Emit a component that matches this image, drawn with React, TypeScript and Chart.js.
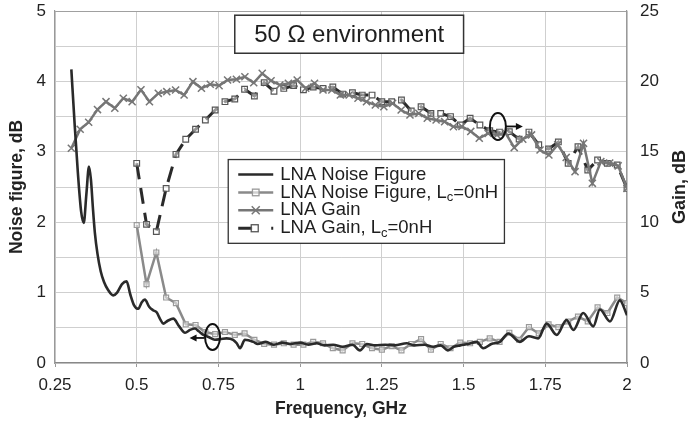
import React, { useEffect, useRef } from 'react';
import { Chart, registerables } from 'chart.js';
Chart.register(...registerables);

// ---------- data ----------
const xTickStep = 0.25;

// LNA Noise Figure (smooth trace), left axis, dB
const nfFreq = [0.300, 0.310, 0.320, 0.330, 0.338, 0.346, 0.354, 0.360, 0.366, 0.372, 0.380, 0.390, 0.400, 0.412, 0.428, 0.440, 0.455, 0.469, 0.480, 0.492, 0.505, 0.515, 0.525, 0.538, 0.550, 0.561, 0.572, 0.581, 0.595, 0.612, 0.630, 0.648, 0.663, 0.678, 0.690, 0.704, 0.720, 0.739, 0.757, 0.775, 0.795, 0.806, 0.816, 0.831, 0.857, 0.870, 0.895, 0.920, 0.945, 0.970, 1.000, 1.025, 1.050, 1.075, 1.101, 1.130, 1.160, 1.183, 1.204, 1.230, 1.260, 1.290, 1.326, 1.350, 1.380, 1.407, 1.430, 1.452, 1.470, 1.490, 1.515, 1.540, 1.560, 1.585, 1.611, 1.637, 1.672, 1.700, 1.728, 1.754, 1.785, 1.815, 1.836, 1.866, 1.897, 1.917, 1.948, 1.978, 2.000];
const nfValues = [4.17, 3.40, 2.70, 2.15, 1.99, 2.40, 2.79, 2.60, 2.20, 1.85, 1.55, 1.30, 1.15, 1.04, 0.96, 1.00, 1.12, 1.16, 0.98, 0.82, 0.77, 0.86, 0.90, 0.80, 0.75, 0.72, 0.62, 0.56, 0.60, 0.63, 0.52, 0.43, 0.47, 0.49, 0.45, 0.40, 0.37, 0.33, 0.34, 0.35, 0.33, 0.28, 0.21, 0.33, 0.30, 0.27, 0.30, 0.26, 0.29, 0.27, 0.29, 0.26, 0.28, 0.25, 0.26, 0.23, 0.26, 0.18, 0.27, 0.25, 0.26, 0.25, 0.28, 0.25, 0.26, 0.23, 0.25, 0.18, 0.23, 0.25, 0.27, 0.30, 0.21, 0.27, 0.30, 0.42, 0.30, 0.38, 0.35, 0.56, 0.40, 0.61, 0.47, 0.71, 0.52, 0.76, 0.59, 0.89, 0.68];

// LNA Gain, right axis, dB
const gainFreq = [0.300, 0.327, 0.353, 0.380, 0.406, 0.433, 0.459, 0.486, 0.513, 0.539, 0.566, 0.592, 0.619, 0.645, 0.672, 0.698, 0.725, 0.752, 0.778, 0.805, 0.831, 0.858, 0.884, 0.911, 0.938, 0.964, 0.991, 1.017, 1.044, 1.070, 1.097, 1.123, 1.150, 1.177, 1.203, 1.230, 1.256, 1.283, 1.309, 1.336, 1.363, 1.389, 1.416, 1.442, 1.469, 1.495, 1.522, 1.548, 1.575, 1.602, 1.628, 1.655, 1.681, 1.708, 1.734, 1.761, 1.788, 1.814, 1.841, 1.867, 1.894, 1.920, 1.947, 1.973, 2.000];
const gainValues = [15.25, 16.6, 17.1, 18.0, 18.56, 18.1, 18.8, 18.56, 19.4, 18.56, 19.15, 19.27, 19.39, 19.03, 19.98, 19.51, 19.8, 19.7, 20.1, 20.15, 20.33, 19.9, 20.57, 20.05, 19.74, 19.86, 20.1, 19.51, 19.86, 19.39, 19.39, 19.03, 19.03, 18.8, 18.56, 18.32, 18.2, 18.44, 17.97, 17.61, 17.73, 17.38, 17.26, 17.14, 16.78, 16.8, 16.45, 15.96, 16.3, 16.2, 16.35, 15.3, 15.9, 16.2, 15.13, 14.77, 15.5, 14.6, 13.59, 15.6, 12.76, 14.3, 14.2, 14.0, 12.4];

// Lc = 0 nH measurements
const lcFreq = [0.50, 0.53, 0.56, 0.59, 0.62, 0.65, 0.68, 0.71, 0.74, 0.77, 0.80, 0.83, 0.86, 0.89, 0.92, 0.95, 0.98, 1.01, 1.04, 1.07, 1.10, 1.13, 1.16, 1.19, 1.22, 1.25, 1.28, 1.31, 1.34, 1.37, 1.40, 1.43, 1.46, 1.49, 1.52, 1.55, 1.58, 1.61, 1.64, 1.67, 1.70, 1.73, 1.76, 1.79, 1.82, 1.85, 1.88, 1.91, 1.94, 1.97, 2.00];
const nfLcValues = [1.96, 1.12, 1.57, 0.93, 0.85, 0.55, 0.54, 0.44, 0.41, 0.44, 0.40, 0.42, 0.33, 0.27, 0.26, 0.28, 0.26, 0.26, 0.30, 0.28, 0.21, 0.18, 0.28, 0.27, 0.21, 0.19, 0.24, 0.18, 0.27, 0.34, 0.19, 0.27, 0.21, 0.29, 0.28, 0.30, 0.35, 0.30, 0.43, 0.33, 0.51, 0.42, 0.55, 0.51, 0.59, 0.66, 0.59, 0.79, 0.71, 0.93, 0.85];
const gainLcValues = [14.18, 9.85, 9.33, 12.4, 14.82, 15.89, 16.6, 17.26, 17.97, 18.56, 18.75, 19.44, 18.96, 19.91, 19.3, 19.5, 19.7, 19.4, 19.6, 19.5, 19.6, 19.1, 19.2, 19.03, 19.03, 18.56, 18.56, 18.68, 17.9, 18.2, 17.73, 17.73, 17.5, 16.9, 17.38, 16.9, 16.5, 16.4, 16.43, 15.9, 16.4, 15.5, 15.2, 15.7, 14.18, 15.36, 13.7, 14.42, 14.18, 14.06, 12.4];

const seriesLabels = ['LNA Noise Figure', 'LNA Noise Figure, L', 'LNA Gain', 'LNA Gain, L'];
const titleText = '50 Ω environment';
const rightTitle = 'Gain, dB';

// ---------- styling ----------
const FONT = '"Liberation Sans", Arial, sans-serif';
const C_DARK = '#2a2a2a';
const C_GRAY = '#8a8a8a';
const C_GAIN = '#767676';
const GAIN_DASH = [16, 9];

const pts = (xs: number[], ys: number[]) => xs.map((x, i) => ({ x, y: ys[i] }));

function drawSquare(ctx: CanvasRenderingContext2D, x: number, y: number, r: number, stroke: string) {
  ctx.save();
  ctx.setLineDash([]);
  ctx.fillStyle = 'rgba(255,255,255,0.6)';
  ctx.strokeStyle = stroke;
  ctx.lineWidth = 1.3;
  ctx.fillRect(x - r, y - r, 2 * r, 2 * r);
  ctx.strokeRect(x - r, y - r, 2 * r, 2 * r);
  ctx.restore();
}

function drawCross(ctx: CanvasRenderingContext2D, x: number, y: number, r: number, stroke: string) {
  ctx.save();
  ctx.strokeStyle = stroke;
  ctx.lineWidth = 1.5;
  ctx.beginPath();
  ctx.moveTo(x - r, y - r); ctx.lineTo(x + r, y + r);
  ctx.moveTo(x - r, y + r); ctx.lineTo(x + r, y - r);
  ctx.stroke();
  ctx.restore();
}

function arrow(ctx: CanvasRenderingContext2D, x0: number, y: number, x1: number) {
  const dir = Math.sign(x1 - x0);
  ctx.beginPath();
  ctx.moveTo(x0, y);
  ctx.lineTo(x1 - dir * 5, y);
  ctx.stroke();
  ctx.beginPath();
  ctx.moveTo(x1, y);
  ctx.lineTo(x1 - dir * 7, y - 3.5);
  ctx.lineTo(x1 - dir * 7, y + 3.5);
  ctx.closePath();
  ctx.fill();
}

const overlayPlugin = {
  id: 'overlay',
  afterDraw(chart: any) {
    const { ctx, chartArea } = chart;
    const x = chart.scales.x;
    const y = chart.scales.y;
    const y2 = chart.scales.y2;
    ctx.save();

    // title box
    const tx0 = x.getPixelForValue(0.8), tx1 = x.getPixelForValue(1.5);
    const ty0 = y.getPixelForValue(4.94), ty1 = y.getPixelForValue(4.4);
    ctx.fillStyle = '#fff';
    ctx.fillRect(tx0, ty0, tx1 - tx0, ty1 - ty0);
    ctx.strokeStyle = '#333';
    ctx.lineWidth = 1.5;
    ctx.strokeRect(tx0, ty0, tx1 - tx0, ty1 - ty0);
    ctx.fillStyle = '#1e1e1e';
    ctx.font = `24px ${FONT}`;
    ctx.textAlign = 'center';
    ctx.textBaseline = 'middle';
    ctx.fillText(titleText, (tx0 + tx1) / 2, (ty0 + ty1) / 2 + 1);

    // legend box
    const lx0 = x.getPixelForValue(0.78), lx1 = x.getPixelForValue(1.625);
    const ly0 = y.getPixelForValue(2.89), ly1 = y.getPixelForValue(1.7);
    ctx.fillStyle = '#fff';
    ctx.fillRect(lx0, ly0, lx1 - lx0, ly1 - ly0);
    ctx.strokeStyle = '#333';
    ctx.lineWidth = 1.3;
    ctx.strokeRect(lx0, ly0, lx1 - lx0, ly1 - ly0);
    const sx0 = lx0 + 10, sx1 = lx0 + 45, tX = lx0 + 52;
    ctx.textAlign = 'left';
    ctx.textBaseline = 'middle';
    for (let i = 0; i < 4; i++) {
      const ry = ly0 + 15 + i * 17.9;
      ctx.save();
      ctx.lineCap = 'butt';
      if (i === 0) { ctx.strokeStyle = C_DARK; ctx.lineWidth = 2.5; }
      if (i === 1) { ctx.strokeStyle = C_GRAY; ctx.lineWidth = 2.5; }
      if (i === 2) { ctx.strokeStyle = C_GAIN; ctx.lineWidth = 2.5; }
      if (i === 3) { ctx.strokeStyle = C_DARK; ctx.lineWidth = 3; ctx.setLineDash([14, 19]); }
      ctx.beginPath();
      ctx.moveTo(sx0, ry);
      ctx.lineTo(sx1, ry);
      ctx.stroke();
      ctx.restore();
      const mx = (sx0 + sx1) / 2;
      if (i === 1) drawSquare(ctx, mx, ry, 3.3, '#999');
      if (i === 2) drawCross(ctx, mx, ry, 4, C_GAIN);
      if (i === 3) drawSquare(ctx, mx - 1, ry, 3.5, '#555');
      ctx.fillStyle = '#1e1e1e';
      ctx.font = `18.5px ${FONT}`;
      const label = seriesLabels[i];
      ctx.fillText(label, tX, ry);
      if (i === 1 || i === 3) {
        let cx = tX + ctx.measureText(label).width;
        ctx.font = `13px ${FONT}`;
        ctx.fillText('c', cx, ry + 5);
        cx += ctx.measureText('c').width;
        ctx.font = `18.5px ${FONT}`;
        ctx.fillText('=0nH', cx, ry);
      }
    }

    // ellipse + arrow markers
    ctx.strokeStyle = '#111';
    ctx.fillStyle = '#111';
    ctx.lineWidth = 2;
    const e1x = x.getPixelForValue(0.732), e1y = y.getPixelForValue(0.37);
    ctx.beginPath();
    ctx.ellipse(e1x, e1y, 7.5, 13, 0, 0, Math.PI * 2);
    ctx.stroke();
    ctx.lineWidth = 1.8;
    arrow(ctx, e1x - 8, e1y + 1, e1x - 23);
    ctx.lineWidth = 2;
    const e2x = x.getPixelForValue(1.605), e2y = y2.getPixelForValue(16.8);
    ctx.beginPath();
    ctx.ellipse(e2x, e2y, 8, 13.5, 0, 0, Math.PI * 2);
    ctx.stroke();
    ctx.lineWidth = 1.8;
    arrow(ctx, e2x + 8, e2y, e2x + 25);

    // right axis title (reads bottom-to-top)
    ctx.save();
    ctx.translate(y2.right - 17, (chartArea.top + chartArea.bottom) / 2);
    ctx.rotate(-Math.PI / 2);
    ctx.font = `bold 18px ${FONT}`;
    ctx.fillStyle = '#222';
    ctx.textAlign = 'center';
    ctx.textBaseline = 'middle';
    ctx.fillText(rightTitle, 0, 0);
    ctx.restore();

    ctx.restore();
  },
};

export default function App() {
  const ref = useRef<HTMLCanvasElement | null>(null);
  useEffect(() => {
    document.body.style.margin = '0';
    document.body.style.background = '#fff';
    const canvas = ref.current;
    if (!canvas) return;
    const fixV = (w: number) => (s: any) => { s.width = w; s.paddingTop = 0; s.paddingBottom = 0; };
    const chart = new Chart(canvas, {
      type: 'line',
      data: {
        datasets: [
          {
            label: 'LNA Noise Figure',
            data: pts(nfFreq, nfValues),
            yAxisID: 'y',
            borderColor: C_DARK,
            borderWidth: 2.6,
            pointRadius: 0,
            cubicInterpolationMode: 'monotone',
          },
          {
            label: 'LNA Noise Figure, Lc=0nH',
            data: pts(lcFreq, nfLcValues),
            yAxisID: 'y',
            borderColor: C_GRAY,
            borderWidth: 2.5,
            pointStyle: 'rect',
            pointRadius: 3.5,
            pointBorderColor: '#9a9a9a',
            pointBackgroundColor: 'rgba(255,255,255,0.5)',
            pointBorderWidth: 1.2,
            tension: 0,
          },
          {
            label: 'LNA Gain',
            data: pts(gainFreq, gainValues),
            yAxisID: 'y2',
            borderColor: C_GAIN,
            borderWidth: 2.5,
            pointStyle: 'crossRot',
            pointRadius: 5,
            pointBorderColor: C_GAIN,
            pointBorderWidth: 1.5,
            tension: 0,
          },
          {
            label: 'LNA Gain, Lc=0nH',
            data: pts(lcFreq, gainLcValues),
            yAxisID: 'y2',
            borderColor: C_DARK,
            borderWidth: 3,
            borderDash: GAIN_DASH,
            pointStyle: 'rect',
            pointRadius: 4,
            pointBorderColor: '#555',
            pointBackgroundColor: 'rgba(255,255,255,0.5)',
            pointBorderWidth: 1.2,
            tension: 0,
          },
        ],
      },
      options: {
        responsive: false,
        animation: false,
        layout: { padding: { top: 11, left: 0, right: 0, bottom: 0 } },
        plugins: { legend: { display: false }, tooltip: { enabled: false } },
        scales: {
          x: {
            type: 'linear',
            min: 0.25,
            max: 2,
            afterFit: (s: any) => { s.height = 63; s.paddingLeft = 0; s.paddingRight = 0; },
            ticks: { stepSize: xTickStep, font: { family: FONT, size: 17 }, color: '#222', padding: 8, maxRotation: 0, autoSkip: false, callback: (v: any) => String(Math.round(v * 100) / 100) },
            grid: { color: '#cfcfcf', lineWidth: 1, tickLength: 4, tickColor: '#999' },
            border: { color: '#888', width: 1.2 },
            title: { display: true, text: 'Frequency, GHz', font: { family: FONT, size: 17.5, weight: 'bold' }, color: '#222', padding: { top: 0, bottom: 6 } },
          },
          y: {
            position: 'left',
            min: 0,
            max: 5,
            ticks: { stepSize: 0.5, font: { family: FONT, size: 17 }, color: '#222', padding: 9, callback: (v: any) => (Number.isInteger(v) ? String(v) : '') },
            afterFit: fixV(55),
            grid: { color: (c: any) => (c.tick && c.tick.value === 5 ? '#a0a0a0' : '#cfcfcf'), lineWidth: 1, drawTicks: false },
            border: { color: '#999', width: 1.2 },
            title: { display: true, text: 'Noise figure, dB', font: { family: FONT, size: 17.5, weight: 'bold' }, color: '#222', padding: { top: 7, bottom: 0 } },
          },
          y2: {
            position: 'right',
            min: 0,
            max: 25,
            ticks: { stepSize: 5, font: { family: FONT, size: 17 }, color: '#222', padding: 13 },
            afterFit: fixV(70),
            grid: { drawOnChartArea: false, drawTicks: false },
            border: { color: '#999', width: 1.2 },
            title: { display: false },
          },
        },
      },
      plugins: [overlayPlugin],
    } as any);
    return () => chart.destroy();
  }, []);
  return (
    <div style={{ width: 697, height: 426 }}>
      <canvas ref={ref} width={697} height={426} />
    </div>
  );
}
